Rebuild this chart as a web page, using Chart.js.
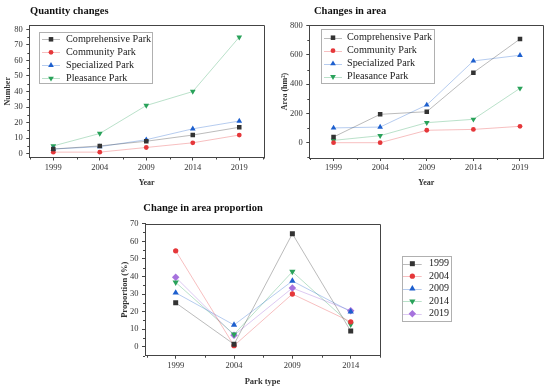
<!DOCTYPE html>
<html>
<head>
<meta charset="utf-8">
<script src="https://cdn.jsdelivr.net/npm/chart.js@4.4.0/dist/chart.umd.min.js"></script>
<style>
  html, body { margin: 0; padding: 0; background: #fff; }
  #page { position: relative; width: 550px; height: 392px; overflow: hidden; }
  canvas { position: absolute; }
</style>
</head>
<body>
<div id="page">
  <canvas id="qty" width="275" height="190" style="left:0;top:0"></canvas>
  <canvas id="area" width="275" height="190" style="left:275px;top:0"></canvas>
  <canvas id="prop" width="350" height="202" style="left:110px;top:190px"></canvas>
</div>
<script>
// data
const years = [1999, 2004, 2009, 2014, 2019];
const parkNames = ["Comprehensive Park", "Community Park", "Specialized Park", "Pleasance Park"];

const qtyComprehensive = [3, 5, 8, 12, 17];
const qtyCommunity = [1, 1, 4, 7, 12];
const qtySpecialized = [3, 4.5, 9, 16, 21];
const qtyPleasance = [5, 13, 31, 40, 75];
const qtyTicks = [0, 10, 20, 30, 40, 50, 60, 70, 80];

const areaComprehensive = [39, 194, 212, 479, 709];
const areaCommunity = [0, 0, 85, 91, 112];
const areaSpecialized = [101, 107, 258, 559, 598];
const areaPleasance = [16, 48, 137, 160, 372];
const areaTicks = [0, 200, 400, 600, 800];

const propCategories = [1999, 2004, 2009, 2014];
const propSeriesNames = ["1999", "2004", "2009", "2014", "2019"];
const prop1999 = [25, 1.4, 64.3, 8.9];
const prop2004 = [54.6, 0.6, 30, 14.2];
const prop2009 = [30.7, 12.4, 37.4, 20];
const prop2014 = [36.6, 7, 42.7, 12.7];
const prop2019 = [39.5, 6.5, 33.4, 20.5];
const propTicks = [0, 10, 20, 30, 40, 50, 60, 70];

const serif = "'Liberation Serif', 'Times New Roman', serif";
const axisColor = "#444";

const styles = [
  { color: "#333333", line: "rgba(60,60,60,0.35)", point: "rect", rot: 0, r: 3.2 },
  { color: "#e5373a", line: "rgba(229,55,58,0.32)", point: "circle", rot: 0, r: 2.4 },
  { color: "#1d5fce", line: "rgba(29,95,206,0.32)", point: "triangle", rot: 0, r: 3.3 },
  { color: "#29a25a", line: "rgba(41,162,90,0.32)", point: "triangle", rot: 180, r: 3.3 },
  { color: "#a672dd", line: "rgba(166,114,221,0.38)", point: "rectRot", rot: 0, r: 3.4 }
];

function makeDataset(label, values, i, k) {
  const s = styles[i];
  return {
    label: label,
    data: values,
    borderColor: s.line,
    borderWidth: 1,
    pointStyle: s.point,
    pointRotation: s.rot,
    pointRadius: s.r * k,
    pointBackgroundColor: s.color,
    pointBorderColor: s.color,
    pointBorderWidth: 0,
    tension: 0,
    fill: false,
    _marker: s
  };
}

function drawMarker(ctx, s, x, y, r) {
  ctx.save();
  ctx.translate(x, y);
  ctx.rotate(s.rot * Math.PI / 180);
  ctx.fillStyle = s.color;
  ctx.beginPath();
  if (s.point === "circle") {
    ctx.arc(0, 0, r, 0, Math.PI * 2);
  } else if (s.point === "rect") {
    const h = r * Math.SQRT1_2;
    ctx.rect(-h, -h, 2 * h, 2 * h);
  } else if (s.point === "rectRot") {
    ctx.moveTo(-r, 0); ctx.lineTo(0, -r); ctx.lineTo(r, 0); ctx.lineTo(0, r); ctx.closePath();
  } else {
    let a = 0;
    ctx.moveTo(Math.sin(a) * r, -Math.cos(a) * r);
    a += Math.PI * 2 / 3;
    ctx.lineTo(Math.sin(a) * r, -Math.cos(a) * r);
    a += Math.PI * 2 / 3;
    ctx.lineTo(Math.sin(a) * r, -Math.cos(a) * r);
    ctx.closePath();
  }
  ctx.fill();
  ctx.restore();
}

// frame on top/right + minor ticks, title, boxed legend
const framePlugin = {
  id: "frame",
  afterDraw(chart) {
    const ctx = chart.ctx;
    const a = chart.chartArea;
    const px = v => Math.round(v) + 0.5;
    ctx.save();
    ctx.strokeStyle = axisColor;
    ctx.lineWidth = 1;
    ctx.beginPath();
    ctx.moveTo(px(a.left), px(a.top));
    ctx.lineTo(px(a.right), px(a.top));
    ctx.lineTo(px(a.right), px(a.bottom));
    ctx.stroke();

    const minors = scale => {
      const v = scale.ticks.map(t => t.value);
      const half = (v[1] - v[0]) / 2;
      const out = [];
      v.forEach(t => { out.push(t - half); });
      out.push(v[v.length - 1] + half);
      return out.filter(t => t > scale.min && t < scale.max);
    };
    const xs = chart.scales.x, ys = chart.scales.y;
    ctx.beginPath();
    minors(xs).forEach(t => {
      const x = px(xs.getPixelForValue(t));
      ctx.moveTo(x, a.bottom);
      ctx.lineTo(x, a.bottom + 2);
    });
    minors(ys).forEach(t => {
      const y = px(ys.getPixelForValue(t));
      ctx.moveTo(a.left, y);
      ctx.lineTo(a.left - 2, y);
    });
    ctx.stroke();
    ctx.restore();
  }
};

const titlePlugin = {
  id: "cornerTitle",
  afterDraw(chart, args, o) {
    const ctx = chart.ctx;
    ctx.save();
    ctx.fillStyle = "#111";
    ctx.font = "bold " + o.size + "px " + serif;
    ctx.textBaseline = "middle";
    ctx.textAlign = "left";
    ctx.fillText(o.text, o.x, o.y);
    ctx.restore();
  }
};

const legendPlugin = {
  id: "boxLegend",
  afterDraw(chart, args, o) {
    const ctx = chart.ctx;
    ctx.save();
    ctx.strokeStyle = "#b0b0b0";
    ctx.lineWidth = 1;
    ctx.strokeRect(Math.round(o.x) + 0.5, Math.round(o.y) + 0.5, Math.round(o.w), Math.round(o.h));
    ctx.font = o.size + "px " + serif;
    ctx.textBaseline = "middle";
    ctx.fillStyle = "#222";
    chart.data.datasets.forEach((ds, i) => {
      const y = o.row0 + i * o.gap;
      ctx.strokeStyle = ds.borderColor;
      ctx.beginPath();
      ctx.moveTo(o.line0, Math.round(y) + 0.5);
      ctx.lineTo(o.line1, Math.round(y) + 0.5);
      ctx.stroke();
      drawMarker(ctx, ds._marker, (o.line0 + o.line1) / 2, y, ds.pointRadius);
      ctx.fillText(ds.label, o.textX, y);
    });
    ctx.restore();
  }
};

function makeChart(id, labels, datasets, c) {
  return new Chart(document.getElementById(id), {
    type: "line",
    data: { labels: labels, datasets: datasets },
    plugins: [framePlugin, titlePlugin, legendPlugin],
    options: {
      responsive: false,
      animation: false,
      devicePixelRatio: 1,
      layout: { padding: { top: c.top, right: c.right, bottom: 0, left: 0 } },
      plugins: {
        legend: { display: false },
        tooltip: { enabled: false },
        cornerTitle: c.title,
        boxLegend: c.legend
      },
      scales: {
        x: {
          type: "linear",
          min: c.xMin,
          max: c.xMax,
          afterBuildTicks: s => { s.ticks = c.xTicks.map(v => ({ value: v })); },
          afterFit: s => { s.height = c.xH; },
          grid: { drawOnChartArea: false, drawTicks: true, tickLength: 3, color: axisColor, lineWidth: 1 },
          border: { display: true, color: axisColor, width: 1 },
          ticks: { callback: v => String(v), color: "#333", font: { family: serif, size: c.tick }, padding: 2, maxRotation: 0, autoSkip: false },
          title: { display: true, text: c.xTitle, color: "#333", font: { family: serif, size: c.axisFont, weight: "bold" }, padding: { top: 0, bottom: c.xTitlePad } }
        },
        y: {
          type: "linear",
          min: c.yMin,
          max: c.yMax,
          afterBuildTicks: s => { s.ticks = c.yTicks.map(v => ({ value: v })); },
          afterFit: s => { s.width = c.yW; },
          grid: { drawOnChartArea: false, drawTicks: true, tickLength: 3, color: axisColor, lineWidth: 1 },
          border: { display: true, color: axisColor, width: 1 },
          ticks: { callback: v => String(v), color: "#333", font: { family: serif, size: c.tick }, padding: 3.5, autoSkip: false },
          title: { display: true, text: c.yTitle, color: "#333", font: { family: serif, size: c.axisFont, weight: "bold" }, padding: { top: c.yTitlePad, bottom: 0 } }
        }
      }
    }
  });
}

makeChart("qty", years, [
  makeDataset(parkNames[0], qtyComprehensive, 0, 1),
  makeDataset(parkNames[1], qtyCommunity, 1, 1),
  makeDataset(parkNames[2], qtySpecialized, 2, 1),
  makeDataset(parkNames[3], qtyPleasance, 3, 1)
], {
  top: 25, right: 11, xH: 32.5, yW: 29.3,
  xMin: 1996.42, xMax: 2021.66, xTicks: years,
  yMin: -2.45, yMax: 82.8, yTicks: qtyTicks,
  tick: 8.5, axisFont: 8, xTitle: "Year", yTitle: "Number", xTitlePad: 2.5, yTitlePad: 2.7,
  title: { text: "Quantity changes", x: 30, y: 11, size: 10.5 },
  legend: { x: 39, y: 32, w: 113, h: 51, row0: 39.3, gap: 13, line0: 42, line1: 60, textX: 66, size: 10.2 }
});

makeChart("area", years, [
  makeDataset(parkNames[0], areaComprehensive, 0, 1),
  makeDataset(parkNames[1], areaCommunity, 1, 1),
  makeDataset(parkNames[2], areaSpecialized, 2, 1),
  makeDataset(parkNames[3], areaPleasance, 3, 1)
], {
  top: 25, right: 6.7, xH: 32, yW: 34.3,
  xMin: 1996.4, xMax: 2021.5, xTicks: years,
  yMin: -104.6, yMax: 804.8, yTicks: areaTicks,
  tick: 8.5, axisFont: 8, xTitle: "Year", yTitle: "Area (hm²)", xTitlePad: 2.2, yTitlePad: 5.5,
  title: { text: "Changes in area", x: 39, y: 11.5, size: 10.5 },
  legend: { x: 46, y: 29, w: 113, h: 54, row0: 37.7, gap: 13, line0: 49, line1: 67, textX: 72, size: 10.2 }
});

makeChart("prop", propCategories, [
  makeDataset(propSeriesNames[0], prop1999, 0, 1.1),
  makeDataset(propSeriesNames[1], prop2004, 1, 1.1),
  makeDataset(propSeriesNames[2], prop2009, 2, 1.1),
  makeDataset(propSeriesNames[3], prop2014, 3, 1.1),
  makeDataset(propSeriesNames[4], prop2019, 4, 1.1)
], {
  top: 33.7, right: 80, xH: 36.3, yW: 35,
  xMin: 1996.37, xMax: 2016.51, xTicks: propCategories,
  yMin: -5.1, yMax: 70, yTicks: propTicks,
  tick: 8.5, axisFont: 8.5, xTitle: "Park type", yTitle: "Proportion (%)", xTitlePad: 5.6, yTitlePad: 9.2,
  title: { text: "Change in area proportion", x: 33.3, y: 18, size: 10.5 },
  legend: { x: 291.7, y: 65.7, w: 49.3, h: 65.3, row0: 73.7, gap: 12.5, line0: 293, line1: 311.7, textX: 319, size: 10 }
});
</script>
</body>
</html>
